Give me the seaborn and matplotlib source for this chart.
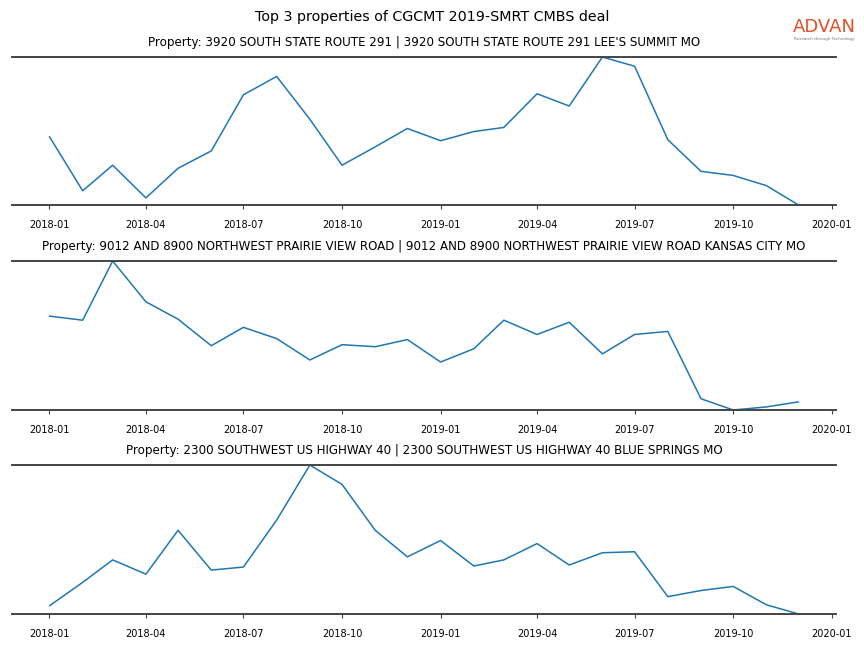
import matplotlib
matplotlib.use("Agg")
import matplotlib.pyplot as plt
import seaborn as sns
import pandas as pd
import numpy as np

sns.set_style("white")
plt.rcParams['font.family'] = ['DejaVu Sans']
plt.rcParams['text.color'] = 'black'
plt.rcParams['xtick.color'] = 'black'

months = pd.date_range("2018-01-01", "2019-12-01", freq="MS")

titles = [
    "Property: 3920 SOUTH STATE ROUTE 291 | 3920 SOUTH STATE ROUTE 291 LEE'S SUMMIT MO",
    "Property: 9012 AND 8900 NORTHWEST PRAIRIE VIEW ROAD | 9012 AND 8900 NORTHWEST PRAIRIE VIEW ROAD KANSAS CITY MO",
    "Property: 2300 SOUTHWEST US HIGHWAY 40 | 2300 SOUTHWEST US HIGHWAY 40 BLUE SPRINGS MO",
]

visits_1 = [68, 15, 40, 8, 37, 54, 109, 127, 85, 40, 58, 76, 64, 73, 77, 110, 98, 146, 137, 65, 34, 30, 20, 1]
visits_2 = [94, 90, 148, 108, 91, 65, 83, 72, 51, 66, 64, 71, 49, 62, 90, 76, 88, 57, 76, 79, 13, 2, 5, 10]
visits_3 = [9, 32, 54, 40, 83, 44, 47, 93, 147, 128, 83, 57, 73, 48, 54, 70, 49, 61, 62, 18, 24, 28, 10, 1]

series = [visits_1, visits_2, visits_3]

fig = plt.figure(figsize=(8.64, 6.48), dpi=100)
boxes = [(0.6836, 0.912), (0.3673, 0.5972), (0.0525, 0.2824)]
left, right = 12 / 864, 836 / 864

for (b, t), title, vals in zip(boxes, titles, series):
    ax = fig.add_axes([left, b, right - left, t - b])
    df = pd.DataFrame({"date": months, "visits": vals})
    sns.lineplot(data=df, x="date", y="visits", ax=ax, color="#1f77b4", linewidth=1.1)
    ax.set_ylim(min(vals), max(vals))
    ax.set_xlabel("")
    ax.set_ylabel("")
    ax.set_yticks([])
    ax.set_title(title, fontsize=8.6, pad=8, color="black")
    for s in ["left", "right"]:
        ax.spines[s].set_visible(False)
    for s in ["top", "bottom"]:
        ax.spines[s].set_visible(True)
        ax.spines[s].set_color("#444444")
        ax.spines[s].set_linewidth(1.4)
    ax.xaxis.set_major_locator(matplotlib.dates.MonthLocator(bymonth=[1, 4, 7, 10]))
    ax.xaxis.set_major_formatter(matplotlib.dates.DateFormatter("%Y-%m"))
    ax.tick_params(axis="x", labelsize=7, length=3, width=0.8, color="#444444",
                   labelcolor="black", bottom=True, pad=8)

fig.suptitle("Top 3 properties of CGCMT 2019-SMRT CMBS deal", fontsize=10.3, y=0.985, color="black")
fig.text(0.9545, 0.959, "ADVAN", color="#e0502a", fontsize=13, ha="center", va="center")
fig.text(0.9545, 0.940, "Research through Technology", color="#777777", fontsize=3, ha="center", va="center")

fig.savefig("out.png", dpi=100)
